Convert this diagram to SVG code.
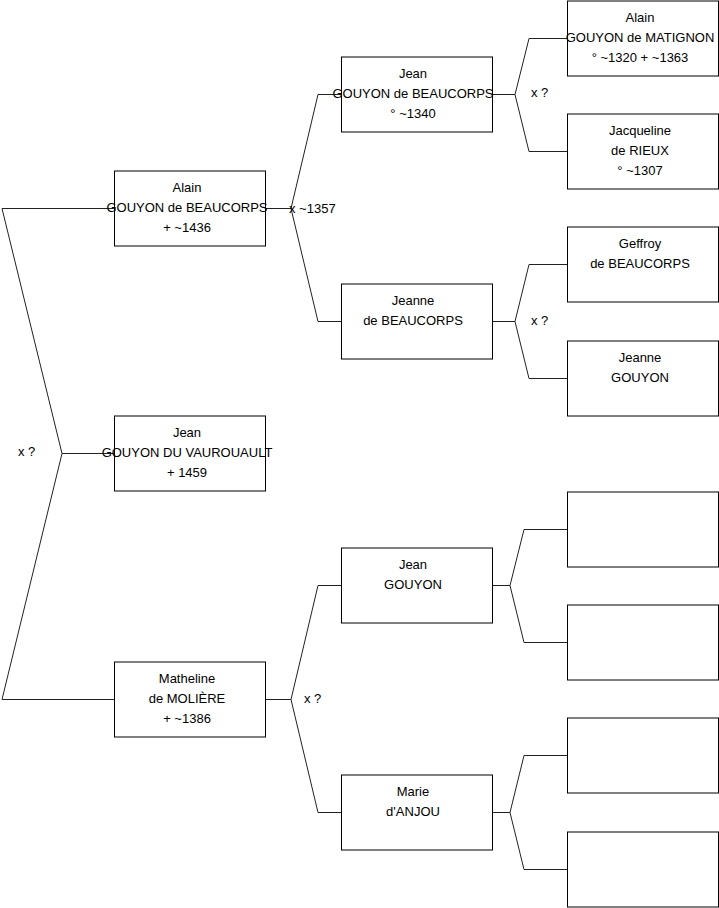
<svg xmlns="http://www.w3.org/2000/svg" width="719" height="908" viewBox="0 0 719 908">
<style>
.box{fill:#fff;stroke:#000;stroke-width:1}
.ln{fill:none;stroke:#222;stroke-width:1}
text{font-family:"Liberation Sans",Arial,sans-serif;font-size:13px;fill:#000}
.c{text-anchor:middle}
</style>
<rect width="719" height="908" fill="#fff"/>
<g id="connectors">
<path class="ln" d="M114,208.5 H2 L62,453.5 L2,699.5 H114 M62,453.5 H114"/>
<path class="ln" d="M265,208.5 H291 L318,94.5 H341 M291,208.5 L318,321.5 H341"/>
<path class="ln" d="M265,699.5 H291 L318,585.5 H341 M291,699.5 L318,812.5 H341"/>
<path class="ln" d="M492,94.5 H515 L529,38.5 H567 M515,94.5 L529,151.5 H567"/>
<path class="ln" d="M492,321.5 H515 L529,264.5 H567 M515,321.5 L529,378.5 H567"/>
<path class="ln" d="M492,585.5 H510 L524,529.5 H567 M510,585.5 L524,642.5 H567"/>
<path class="ln" d="M492,812.5 H510 L524,755.5 H567 M510,812.5 L524,869.5 H567"/>
<text x="18" y="456">x ?</text>
<text x="289" y="213">x ~1357</text>
<text x="304" y="703">x ?</text>
<text x="531" y="97">x ?</text>
<text x="531" y="325">x ?</text>
</g>
<g id="n_alain">
<rect class="box" x="114.5" y="171" width="151" height="75"/>
<text class="c" x="187" y="192">Alain</text>
<text class="c" x="187" y="212">GOUYON de BEAUCORPS</text>
<text class="c" x="187" y="232">+ ~1436</text>
</g>
<g id="n_jean_vaurouault">
<rect class="box" x="114.5" y="416" width="151" height="75"/>
<text class="c" x="187" y="437">Jean</text>
<text class="c" x="187" y="457">GOUYON DU VAUROUAULT</text>
<text class="c" x="187" y="477">+ 1459</text>
</g>
<g id="n_matheline">
<rect class="box" x="114.5" y="662" width="151" height="75"/>
<text class="c" x="187" y="683">Matheline</text>
<text class="c" x="187" y="703">de MOLIÈRE</text>
<text class="c" x="187" y="723">+ ~1386</text>
</g>
<g id="n_jean_beaucorps">
<rect class="box" x="341.5" y="57" width="151" height="75"/>
<text class="c" x="413" y="78">Jean</text>
<text class="c" x="413" y="98">GOUYON de BEAUCORPS</text>
<text class="c" x="413" y="118">° ~1340</text>
</g>
<g id="n_jeanne_beaucorps">
<rect class="box" x="341.5" y="284" width="151" height="75"/>
<text class="c" x="413" y="305">Jeanne</text>
<text class="c" x="413" y="325">de BEAUCORPS</text>
</g>
<g id="n_jean_gouyon">
<rect class="box" x="341.5" y="548" width="151" height="75"/>
<text class="c" x="413" y="569">Jean</text>
<text class="c" x="413" y="589">GOUYON</text>
</g>
<g id="n_marie_anjou">
<rect class="box" x="341.5" y="775" width="151" height="75"/>
<text class="c" x="413" y="796">Marie</text>
<text class="c" x="413" y="816">d'ANJOU</text>
</g>
<g id="n_alain_matignon">
<rect class="box" x="567.5" y="1" width="151" height="75"/>
<text class="c" x="640" y="22">Alain</text>
<text class="c" x="640" y="42">GOUYON de MATIGNON</text>
<text class="c" x="640" y="62">° ~1320 + ~1363</text>
</g>
<g id="n_jacqueline_rieux">
<rect class="box" x="567.5" y="114" width="151" height="75"/>
<text class="c" x="640" y="135">Jacqueline</text>
<text class="c" x="640" y="155">de RIEUX</text>
<text class="c" x="640" y="175">° ~1307</text>
</g>
<g id="n_geffroy_beaucorps">
<rect class="box" x="567.5" y="227" width="151" height="75"/>
<text class="c" x="640" y="248">Geffroy</text>
<text class="c" x="640" y="268">de BEAUCORPS</text>
</g>
<g id="n_jeanne_gouyon">
<rect class="box" x="567.5" y="341" width="151" height="75"/>
<text class="c" x="640" y="362">Jeanne</text>
<text class="c" x="640" y="382">GOUYON</text>
</g>
<g id="n_empty1"><rect class="box" x="567.5" y="492" width="151" height="75"/></g>
<g id="n_empty2"><rect class="box" x="567.5" y="605" width="151" height="75"/></g>
<g id="n_empty3"><rect class="box" x="567.5" y="718" width="151" height="75"/></g>
<g id="n_empty4"><rect class="box" x="567.5" y="832" width="151" height="75"/></g>
</svg>
